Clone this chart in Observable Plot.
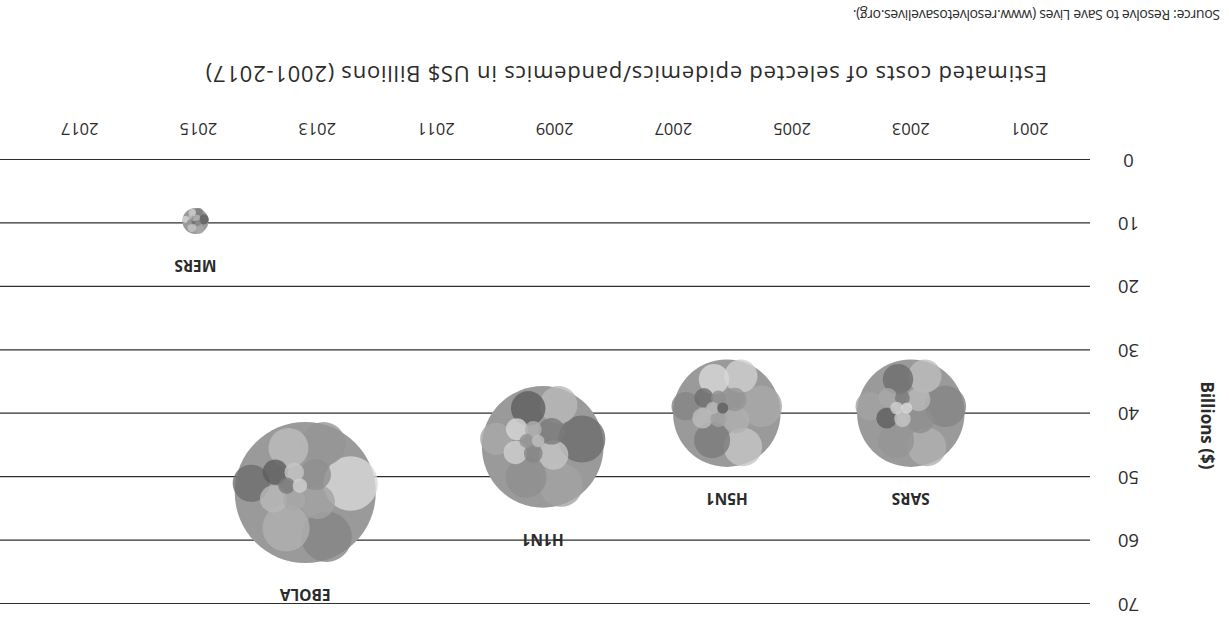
<!DOCTYPE html>
<html><head><meta charset="utf-8">
<script src="https://cdn.jsdelivr.net/npm/d3@7"></script>
<script src="https://cdn.jsdelivr.net/npm/@observablehq/plot@0.6"></script>
<style>
html,body{margin:0;padding:0;background:#fff;overflow:hidden}
#page{position:relative;width:1229px;height:619px;transform:rotate(180deg);transform-origin:50% 50%;font-family:"Open Sans",sans-serif;color:#2b2b2b}
#plot{position:absolute;left:0;top:0}
#title{position:absolute;left:182px;top:530px;font-size:22px;line-height:28px;white-space:nowrap}
#source{position:absolute;left:9px;top:596px;font-size:14px;line-height:16px;white-space:nowrap}
</style></head><body>
<div id="page"><div id="plot"></div><div id="title"></div><div id="source"></div></div>
<script>
// ---- data ----
const epidemics = ["SARS", "H5N1", "H1N1", "EBOLA", "MERS"];
const years = [2003, 2006.1, 2009.2, 2013.2, 2015.05];
const costs = [40, 40, 45.3, 52.5, 9.7];
const xTicks = [2001, 2003, 2005, 2007, 2009, 2011, 2013, 2015, 2017];
const yTicks = [0, 10, 20, 30, 40, 50, 60, 70];
const titleText = "Estimated costs of selected epidemics/pandemics in US$ Billions (2001-2017)";
const sourceText = "Source: Resolve to Save Lives (www.resolvetosavelives.org).";
const yTitle = "Billions ($)";
// decorative texture inside each bubble (relative sizes and grey shades)
const textureWeights = [1, 1.3, 1.8, 2.2, 3, 3.5, 4.5, 5.5, 6.5, 7.5, 9, 10.5, 12, 14];
const textureGrays = ["#d8d8d8", "#cfcfcf", "#7a7a7a", "#c6c6c6", "#a9a9a9", "#5e5e5e", "#b9b9b9", "#8f8f8f", "#a3a3a3", "#6d6d6d", "#bdbdbd", "#959595", "#b0b0b0", "#848484"];

// ---- layout ----
const W = 1229, H = 510, mL = 139, mR = 0, mT = 15, mB = 51;
const xDomain = [1999.99, 2018.35];
const rMax = 94;
const pxPerYear = (W - mL - mR) / (xDomain[1] - xDomain[0]);
const pxPerBillion = (H - mT - mB) / 70;
const rPerBillion = rMax / 70;

const bubbles = epidemics.map((name, i) => {
  const rPx = costs[i] * rPerBillion;
  return {name, year: years[i], cost: costs[i], labelY: costs[i] + (rPx + 31) / pxPerBillion, i};
});

const texture = [];
bubbles.forEach(b => {
  const R = b.cost * rPerBillion;
  const n = textureWeights.length;
  const kids = textureWeights.map((w, k) => ({w, g: textureGrays[(k + b.i * 5) % n]}));
  const h = d3.hierarchy({children: kids}).sum(d => d.w || 0).sort((a, c) => a.value - c.value);
  const root = d3.pack().size([2 * R, 2 * R]).padding(0)(h);
  root.leaves().forEach(l => {
    texture.push({
      x: b.year + (l.x - R) / pxPerYear,
      y: b.cost - (l.y - R) / pxPerBillion,
      r: (l.r * 1.18) / rPerBillion,
      fill: l.data.g
    });
  });
});

const plot = Plot.plot({
  width: W, height: H,
  marginLeft: mL, marginRight: mR, marginTop: mT, marginBottom: mB,
  style: {fontFamily: "'Open Sans', sans-serif", color: "#2b2b2b", background: "transparent"},
  x: {domain: xDomain},
  y: {domain: [0, 70]},
  r: {type: "linear", domain: [0, 70], range: [0, rMax]},
  color: {type: "identity"},
  marks: [
    Plot.ruleY(yTicks, {stroke: "#2e2e2e", strokeWidth: 1.2}),
    Plot.dot(bubbles, {x: "year", y: "cost", r: "cost", fill: "#9a9a9a", stroke: "none"}),
    Plot.dot(texture, {x: "x", y: "y", r: "r", fill: "fill", fillOpacity: 0.8, stroke: "none"}),
    Plot.text(bubbles, {x: "year", y: "labelY", text: "name", fontWeight: "bold", fontSize: 15.5, lineAnchor: "middle"}),
    Plot.axisX({ticks: xTicks, tickSize: 0, tickPadding: 25, fontSize: 16.5, tickFormat: d => String(d), label: null}),
    Plot.axisY({ticks: yTicks, tickSize: 0, tickPadding: 39, textAnchor: "middle", fontSize: 18.5, label: null}),
    Plot.text([yTitle], {text: d => d, frameAnchor: "left", dx: -117, rotate: -90, fontWeight: "bold", fontSize: 17})
  ]
});
document.getElementById("plot").appendChild(plot);

const t = document.getElementById("title");
t.textContent = titleText;
const tw = t.getBoundingClientRect().width;
t.style.letterSpacing = ((842 - tw) / titleText.length) + "px";
const s = document.getElementById("source");
s.textContent = sourceText;
const sw = s.getBoundingClientRect().width;
s.style.letterSpacing = ((367 - sw) / sourceText.length) + "px";
</script>
</body></html>
